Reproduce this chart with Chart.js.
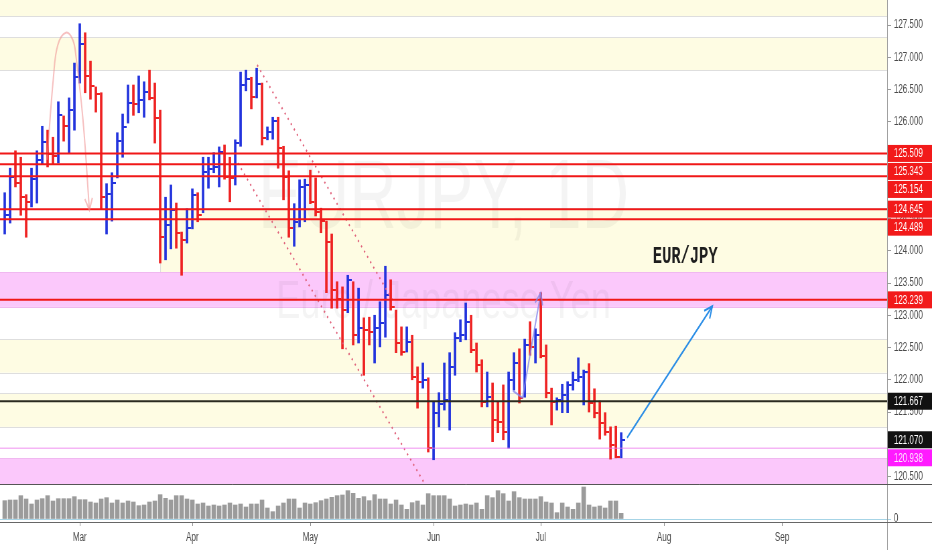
<!DOCTYPE html>
<html>
<head>
<meta charset="utf-8">
<script src="https://cdn.jsdelivr.net/npm/chart.js@4.4.1/dist/chart.umd.min.js"></script>
<style>
  html, body { margin: 0; padding: 0; background: #fff; overflow: hidden; width: 932px; height: 550px; }
  /* the reference snapshot is horizontally squeezed, so draw wide and squeeze */
  #wrap { width: 1391px; height: 550px; transform: scaleX(0.670022); transform-origin: 0 0; }
</style>
</head>
<body>
<div id="wrap"><canvas id="chart"></canvas></div>
<script>
// daily EUR/JPY bars, index 0 = mid Feb, 14 = Mar 1
const highs = [124.90,125.28,125.55,125.45,124.87,125.28,125.55,125.93,125.87,125.76,
  126.31,126.09,126.37,126.91,127.52,127.38,126.94,126.54,126.45,125.04,
  125.21,125.83,126.12,126.57,126.57,126.71,126.62,126.80,126.60,126.18,
  124.83,125.02,124.74,124.29,124.65,124.96,124.90,125.45,125.45,125.52,
  125.61,125.64,125.45,125.72,126.77,126.80,126.69,126.83,126.60,125.92,
  126.07,126.07,125.62,125.24,124.73,125.10,125.11,125.25,125.13,124.66,
  124.46,124.26,123.52,123.44,123.62,123.52,123.42,122.96,122.97,123.00,
  123.21,123.76,123.55,123.08,122.82,122.82,122.69,122.20,122.26,122.03,
  121.66,121.80,122.26,122.42,122.73,122.93,123.19,123.00,122.57,122.31,
  122.12,121.95,121.66,121.92,122.12,122.42,122.48,122.63,122.90,122.79,
  123.35,122.54,121.87,121.72,121.93,121.97,122.12,122.34,122.15,122.25,
  121.86,121.67,121.49,121.27,121.28,121.18];
const lows = [124.26,124.43,124.99,124.55,124.21,124.68,124.74,125.35,125.30,125.35,
  125.36,125.70,125.52,125.87,126.60,126.45,126.35,126.15,124.65,124.26,
  124.46,125.13,125.45,125.98,126.10,126.14,126.07,126.34,125.67,123.81,
  123.86,124.03,124.04,123.62,124.12,124.34,124.45,124.59,124.97,125.21,
  124.99,125.11,124.76,125.02,125.62,126.48,126.20,126.37,125.64,125.72,
  125.73,125.28,124.79,124.21,124.07,124.37,124.45,124.73,124.54,124.28,
  123.35,123.11,123.11,122.48,123.04,122.54,122.57,122.07,122.54,122.26,
  122.51,122.66,123.08,122.42,122.38,122.43,122.00,121.56,121.87,120.88,
  120.76,121.27,121.53,121.22,122.07,122.59,122.62,122.42,122.12,121.58,
  121.58,121.04,121.18,121.07,120.94,121.84,121.64,121.73,122.38,122.26,
  122.34,121.72,121.30,121.53,121.49,121.49,121.84,121.97,121.61,121.50,
  121.41,121.08,121.14,120.77,120.79,120.79];
const closes = [124.55,125.14,125.05,124.83,124.76,125.11,125.41,125.69,125.50,125.47,
  126.10,125.93,126.18,126.69,127.21,126.71,126.55,126.43,124.83,124.88,
  125.05,125.70,125.92,126.29,126.28,126.34,126.46,126.37,126.06,124.21,
  124.40,124.63,124.28,124.17,124.35,124.87,124.55,125.22,125.27,125.30,
  125.53,125.14,125.13,125.67,126.57,126.66,126.38,126.59,125.75,125.84,
  126.01,125.59,125.14,124.35,124.45,124.99,125.02,124.76,124.60,124.46,
  124.14,123.39,123.25,123.08,123.55,122.69,122.80,122.77,122.74,122.80,
  122.88,123.31,123.13,122.57,122.43,122.59,122.04,121.97,122.00,120.94,
  121.49,121.62,121.69,122.20,122.65,122.69,122.90,122.46,122.23,121.66,
  121.73,121.38,121.35,121.19,122.00,122.26,121.72,122.54,122.51,122.69,
  122.37,121.80,121.66,121.69,121.76,121.92,122.00,122.04,122.12,121.64,
  121.49,121.33,121.19,120.99,120.80,121.07];
const prevClose = 124.29;
const volumes = [55,57,57,70,60,45,57,61,70,54, 61,61,61,67,58,58,51,48,60,64,
  48,57,48,54,51,40,42,51,54,73, 62,57,70,70,60,57,45,48,39,42,
  39,42,48,42,45,36,45,45,57,33, 22,39,48,60,60,33,48,45,49,55,
  60,65,70,72,85,77,62,67,55,73, 60,60,45,57,42,29,49,54,42,76,
  70,70,70,60,39,42,45,42,48,29, 70,64,85,76,54,82,64,60,60,60,
  67,51,48,19,48,36,29,48,96,42, 36,39,33,54,54,17];

const monthIdx = [14, 35, 57, 80, 100, 123, 145];
const monthNames = ['Mar', 'Apr', 'May', 'Jun', 'Jul', 'Aug', 'Sep'];
const priceTicks = [120.5, 121, 121.5, 122, 122.5, 123, 123.5, 124, 124.5, 125, 125.5, 126, 126.5, 127, 127.5];

const redLevels = [125.509, 125.343, 125.154, 124.645, 124.489, 123.239];
const blackLevel = 121.667;
const magentaLevel = 120.938;

// shaded boxes: top price, bottom price, kind, first bar index (null = from the left edge)
const zoneTop = [128.00, 127.31, 124.66, 123.67, 122.63, 121.79, 120.78];
const zoneBottom = [127.64, 126.80, 123.67, 123.13, 122.11, 121.27, 120.20];
const zoneKind = ['y', 'y', 'y', 'p', 'y', 'y', 'p'];
const zoneFrom = [null, null, 29, null, null, null, null];

// drawings, as [bar index, price]
const channelUpper = [[47.1, 126.88], [72.3, 123.24]];
const channelLower = [[43.5, 125.36], [78.4, 120.38]];
const arcPoints = [[7.9, 125.41], [9.1, 126.70], [9.9, 127.19], [11.4, 127.38], [12.7, 127.27], [13.3, 127.01], [14.6, 126.03], [15.8, 124.63]];
const blueArrow = [[116.1, 121.10], [132.0, 123.14]];
const purpleArrow = [[94.8, 121.83], [96.6, 121.72], [100.0, 123.35]];
const notePos = [120.9, 123.81];

const BLUE = '#2233dd', RED = '#ee2222';
const isUp = closes.map((c, i) => c >= (i ? closes[i - 1] : prevClose));

function tickImg(color) {
  const c = document.createElement('canvas');
  c.width = 12; c.height = 2;
  const g = c.getContext('2d');
  g.fillStyle = color;
  g.fillRect(6, 0, 6, 2);
  return c;
}
const upTick = tickImg(BLUE), downTick = tickImg(RED);

const pts = arr => arr.map(p => ({x: p[0], y: p[1]}));

// no label padding around the plot, the panes run edge to edge
function noPad(s) {
  s.paddingLeft = 0; s.paddingRight = 0; s.paddingTop = 0; s.paddingBottom = 0;
}

const extras = {
  id: 'extras',
  beforeDatasetsDraw(chart) {
    const {ctx, chartArea: a, scales: {x, y}} = chart;
    ctx.save();
    ctx.beginPath();
    ctx.rect(a.left, y.top, a.right - a.left, y.bottom - y.top);
    ctx.clip();
    zoneTop.forEach((top, k) => {
      const x0 = zoneFrom[k] == null ? a.left : x.getPixelForValue(zoneFrom[k]);
      const y0 = y.getPixelForValue(top), y1 = y.getPixelForValue(zoneBottom[k]);
      ctx.fillStyle = zoneKind[k] === 'p' ? '#fbc8fb' : '#fefce3';
      ctx.fillRect(x0, y0, a.right - x0, y1 - y0);
      ctx.strokeStyle = zoneKind[k] === 'p' ? '#f0b8f0' : '#dedede';
      ctx.lineWidth = 1;
      ctx.beginPath();
      ctx.moveTo(x0, Math.round(y0) + 0.5); ctx.lineTo(a.right, Math.round(y0) + 0.5);
      ctx.moveTo(x0, Math.round(y1) + 0.5); ctx.lineTo(a.right, Math.round(y1) + 0.5);
      if (zoneFrom[k] != null) { ctx.moveTo(x0 + 0.5, y0); ctx.lineTo(x0 + 0.5, y1); }
      ctx.stroke();
    });
    // symbol watermark
    const cx = (a.left + a.right) / 2;
    ctx.fillStyle = 'rgba(0,0,0,0.045)';
    ctx.textAlign = 'center';
    ctx.textBaseline = 'alphabetic';
    ctx.font = '98px "Liberation Sans"';
    ctx.fillText('EURJPY, 1D', cx, 228);
    ctx.font = '54px "Liberation Sans"';
    ctx.fillText('Euro / Japanese Yen', cx, 318);
    ctx.restore();
  },
  afterDatasetsDraw(chart) {
    const {ctx, chartArea: a, scales: {x, y}} = chart;
    ctx.save();
    const hline = (v, color, w) => {
      const py = y.getPixelForValue(v);
      ctx.strokeStyle = color; ctx.lineWidth = w;
      ctx.beginPath(); ctx.moveTo(a.left, py); ctx.lineTo(a.right, py); ctx.stroke();
    };
    hline(magentaLevel, 'rgba(236,120,236,0.55)', 1.5);
    hline(blackLevel, '#2b2b20', 2);
    redLevels.forEach(v => hline(v, '#f01818', 2));
    // arrow heads on the drawn arrows
    chart.data.datasets.forEach((ds, k) => {
      if (!ds.arrowHead) return;
      const els = chart.getDatasetMeta(k).data;
      const p1 = els[els.length - 2], p2 = els[els.length - 1];
      const ang = Math.atan2(p2.y - p1.y, p2.x - p1.x);
      const L = 13, spread = 0.45;
      ctx.strokeStyle = ds.borderColor; ctx.lineWidth = 2;
      ctx.beginPath();
      ctx.moveTo(p2.x - L * Math.cos(ang - spread), p2.y - L * Math.sin(ang - spread));
      ctx.lineTo(p2.x, p2.y);
      ctx.lineTo(p2.x - L * Math.cos(ang + spread), p2.y - L * Math.sin(ang + spread));
      ctx.stroke();
    });
    // text drawing
    ctx.fillStyle = '#1e1e1e';
    ctx.font = 'bold 23px "Liberation Mono"';
    ctx.textAlign = 'left';
    ctx.textBaseline = 'alphabetic';
    ctx.fillText('EUR/JPY', x.getPixelForValue(notePos[0]), y.getPixelForValue(notePos[1]));
    ctx.restore();
  },
  afterDraw(chart) {
    const {ctx, chartArea: a, scales: {y}, width: W, height: H} = chart;
    ctx.save();
    ctx.lineWidth = 1;
    ctx.strokeStyle = '#9a9a9a';
    ctx.beginPath(); ctx.moveTo(a.right + 0.5, 0); ctx.lineTo(a.right + 0.5, H); ctx.stroke();
    ctx.strokeStyle = '#555';
    ctx.beginPath(); ctx.moveTo(0, Math.round(y.bottom) + 0.5); ctx.lineTo(W, Math.round(y.bottom) + 0.5); ctx.stroke();
    ctx.strokeStyle = '#666';
    ctx.beginPath(); ctx.moveTo(0, Math.round(a.bottom) + 0.5); ctx.lineTo(W, Math.round(a.bottom) + 0.5); ctx.stroke();
    // price labels on the scale
    const tags = redLevels.map(v => [v, '#f21a1a', '#fff'])
      .concat([[blackLevel, '#111', '#fff'], [closes[closes.length - 1], '#111', '#fff'], [magentaLevel, '#ff1aff', '#ffe6ff']])
      .map(t => ({v: t[0], bg: t[1], fg: t[2], py: y.getPixelForValue(t[0])}))
      .sort((p, q) => p.py - q.py);
    let last = -1e9;
    ctx.font = '12px "Liberation Sans"';
    ctx.textAlign = 'left';
    ctx.textBaseline = 'middle';
    tags.forEach(t => {
      const cy = Math.max(t.py, last + 18);
      last = cy;
      ctx.fillStyle = t.bg;
      ctx.fillRect(a.right + 1, cy - 8.5, W - a.right, 17);
      ctx.fillStyle = t.fg;
      ctx.fillText(t.v.toFixed(3), a.right + 10, cy + 0.5);
    });
    ctx.restore();
  }
};

Chart.defaults.font.family = '"Liberation Sans", Arial, sans-serif';

new Chart(document.getElementById('chart'), {
  type: 'bar',
  data: {
    datasets: [
      {
        type: 'line', data: pts(channelUpper), borderColor: '#e0607a', borderWidth: 2,
        borderDash: [2, 5], pointRadius: 0, order: 1
      },
      {
        type: 'line', data: pts(channelLower), borderColor: '#e0607a', borderWidth: 2,
        borderDash: [2, 5], pointRadius: 0, order: 1
      },
      {
        type: 'line', data: pts(arcPoints), borderColor: 'rgba(240,150,150,0.6)', borderWidth: 2,
        tension: 0.4, pointRadius: 0, order: 1, arrowHead: true
      },
      {
        type: 'line', data: pts(blueArrow), borderColor: '#2a8de6', borderWidth: 2,
        pointRadius: 0, order: 1, arrowHead: true
      },
      {
        type: 'line', data: pts(purpleArrow), borderColor: 'rgba(135,135,235,0.8)', borderWidth: 2,
        pointRadius: 0, order: 1, arrowHead: true
      },
      {
        type: 'scatter',
        data: closes.map((c, i) => ({x: i, y: c})),
        pointStyle: ctx => isUp[ctx.dataIndex] ? upTick : downTick,
        pointRadius: 3,
        order: 2
      },
      {
        type: 'bar',
        data: closes.map((c, i) => ({x: i, y: [lows[i], highs[i]]})),
        backgroundColor: ctx => isUp[ctx.dataIndex] ? BLUE : RED,
        barThickness: 3,
        grouped: false,
        order: 3
      },
      {
        type: 'bar',
        data: volumes.map((v, i) => ({x: i, y: v})),
        yAxisID: 'yv',
        backgroundColor: '#9b9b9b',
        barThickness: 6,
        grouped: false,
        order: 4
      }
    ]
  },
  options: {
    responsive: true,
    maintainAspectRatio: false,
    animation: false,
    events: [],
    layout: { padding: 0, autoPadding: false },
    plugins: { legend: { display: false }, tooltip: { enabled: false } },
    scales: {
      x: {
        type: 'linear',
        min: -0.877,
        max: 164.6,
        offset: false,
        grid: { drawOnChartArea: false, drawTicks: true, tickLength: 4, color: '#8a8a8a', offset: false },
        border: { display: true, color: '#666' },
        afterBuildTicks: s => { s.ticks = monthIdx.map(v => ({value: v})); },
        afterFit: s => { s.height = 28; noPad(s); },
        ticks: {
          autoSkip: false, maxRotation: 0, padding: 4, color: '#4a4a4a', font: { size: 12 },
          callback: v => monthNames[monthIdx.indexOf(v)]
        }
      },
      y: {
        type: 'linear',
        position: 'right',
        stack: 'pane',
        stackWeight: 484,
        min: 120.384,
        max: 127.888,
        grid: { drawOnChartArea: false, drawTicks: true, tickLength: 6, color: '#9a9a9a' },
        border: { display: true, color: '#9a9a9a' },
        afterBuildTicks: s => { s.ticks = priceTicks.map(v => ({value: v})); },
        afterFit: s => { s.width = 67; noPad(s); },
        ticks: { padding: 4, color: '#4a4a4a', font: { size: 12 }, callback: v => v.toFixed(3) }
      },
      yv: {
        type: 'linear',
        position: 'right',
        stack: 'pane',
        stackWeight: 38,
        min: -9,
        max: 105,
        grid: { drawOnChartArea: true, drawTicks: true, tickLength: 6, color: '#a6d4e6' },
        border: { display: true, color: '#9a9a9a' },
        afterBuildTicks: s => { s.ticks = [{value: 0}]; },
        afterFit: s => { s.width = 67; noPad(s); },
        ticks: { padding: 4, color: '#4a4a4a', font: { size: 12 }, callback: v => String(v) }
      }
    }
  },
  plugins: [extras]
});
</script>
</body>
</html>
